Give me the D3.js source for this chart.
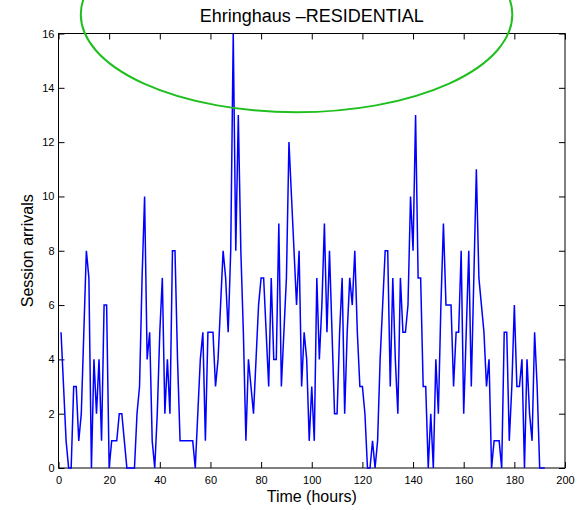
<!DOCTYPE html>
<html lang="en">
  <head>
    <meta charset="UTF-8">
    <title>Ehringhaus - RESIDENTIAL</title>
    <style>
      body { margin: 0; background: #fff; }
      text { font-family: "Liberation Sans", Arial, Helvetica, sans-serif; fill: #000; }
    </style>
  </head>
  <body>
    <svg id="chart" width="585" height="510"></svg>

    <script src="https://d3js.org/d3.v7.min.js"></script>

    <script>
      // session arrivals per hour, first value is hour 1
      var firstHour = 1;
      var arrivals = [
        5,3,1,0,0,3,3,1,2,5,
        8,7,0,4,2,4,1,6,6,0,
        1,1,1,2,2,1,0,0,0,0,
        2,3,7,10,4,5,1,0,2,5,
        7,2,4,2,8,8,4,1,1,1,
        1,1,1,0,2,4,5,1,5,5,
        5,3,4,6,8,7,5,8,16,8,
        13,8,5,1,4,3,2,4,6,7,
        7,5,3,7,4,4,9,3,5,7,
        12,10,8,6,8,3,5,4,1,3,
        1,7,4,6,9,5,8,5,2,2,
        5,7,2,5,7,6,8,5,3,3,
        2,0,0,1,0,1,4,6,8,8,
        3,7,4,2,7,5,5,6,10,8,
        13,7,7,3,3,0,2,0,4,2,
        6,9,6,6,6,3,5,5,8,2,
        5,8,3,7,11,7,6,5,3,4,
        0,1,1,1,0,5,5,1,3,6,
        3,3,4,0,4,2,1,5,3,0,
        0,0
      ];

      var xTicks = [0, 20, 40, 60, 80, 100, 120, 140, 160, 180, 200];
      var yTicks = [0, 2, 4, 6, 8, 10, 12, 14, 16];

      var titre = "Ehringhaus \u2013RESIDENTIAL";
      var xTitre = "Time (hours)";
      var yTitre = "Session arrivals";

      // green ellipse drawn over the chart (in data units)
      var ellipse = {cx: 94, cy: 16.7, rx: 85.2, ry: 3.6};

      var svg = d3.select("#chart");

      var x = d3.scaleLinear().domain([0, 200]).range([58.5, 565]);
      var y = d3.scaleLinear().domain([0, 16]).range([468, 33.5]);

      var points = arrivals.map(function (v, i) { return {t: firstHour + i, v: v}; });

      // ejes, ticks hacia adentro como en matlab
      var g = svg.append("g");

      g.append("g")
        .attr("transform", "translate(0," + y(0) + ")")
        .call(d3.axisBottom(x).tickValues(xTicks).tickSize(-6).tickPadding(8))
        .call(estilo);

      g.append("g")
        .attr("transform", "translate(0," + y(16) + ")")
        .call(d3.axisTop(x).tickValues(xTicks).tickSize(-6).tickFormat(""))
        .call(estilo);

      g.append("g")
        .attr("transform", "translate(" + x(0) + ",0)")
        .call(d3.axisLeft(y).tickValues(yTicks).tickSize(-6).tickPadding(4))
        .call(estilo);

      g.append("g")
        .attr("transform", "translate(" + x(200) + ",0)")
        .call(d3.axisRight(y).tickValues(yTicks).tickSize(-6).tickFormat(""))
        .call(estilo);

      function estilo(sel) {
        sel.select(".domain").remove();
        sel.selectAll("line").attr("stroke", "#000").attr("stroke-width", 1);
        sel.selectAll("text")
          .attr("font-size", 11)
          .attr("font-family", "'Liberation Sans', Arial, sans-serif")
          .attr("fill", "#000");
      }

      // caja del grafico
      svg.append("rect")
        .attr("x", x(0))
        .attr("y", y(16))
        .attr("width", x(200) - x(0))
        .attr("height", y(0) - y(16))
        .attr("fill", "none")
        .attr("stroke", "#000")
        .attr("stroke-width", 1);

      // la serie
      var line = d3.line()
        .x(function (d) { return x(d.t); })
        .y(function (d) { return y(d.v); });

      svg.append("path")
        .datum(points)
        .attr("d", line)
        .attr("fill", "none")
        .attr("stroke", "#0000ff")
        .attr("stroke-width", 1.5)
        .attr("stroke-linejoin", "miter");

      // titulos
      svg.append("text")
        .attr("x", (x(0) + x(200)) / 2)
        .attr("y", 22)
        .attr("text-anchor", "middle")
        .attr("font-size", 18)
        .text(titre);

      svg.append("text")
        .attr("x", (x(0) + x(200)) / 2)
        .attr("y", 502)
        .attr("text-anchor", "middle")
        .attr("font-size", 16)
        .text(xTitre);

      svg.append("text")
        .attr("transform", "translate(33," + (y(0) + y(16)) / 2 + ") rotate(-90)")
        .attr("text-anchor", "middle")
        .attr("font-size", 16)
        .text(yTitre);

      // elipse verde
      svg.append("ellipse")
        .attr("cx", x(ellipse.cx))
        .attr("cy", y(ellipse.cy))
        .attr("rx", x(ellipse.rx) - x(0))
        .attr("ry", y(0) - y(ellipse.ry))
        .attr("fill", "none")
        .attr("stroke", "#1fbf1f")
        .attr("stroke-width", 2);
    </script>
  </body>
</html>
